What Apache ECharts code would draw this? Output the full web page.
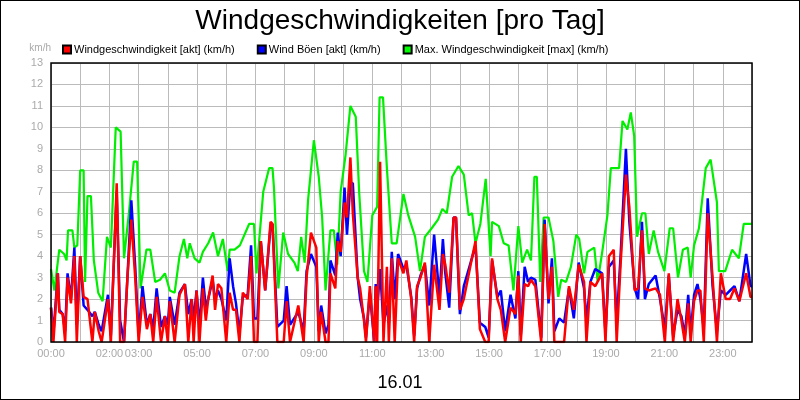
<!DOCTYPE html>
<html>
<head>
<meta charset="utf-8">
<script src="https://cdn.jsdelivr.net/npm/echarts@6/dist/echarts.min.js"></script>
<style>
  html, body { margin: 0; padding: 0; background: #fff; }
  #chart { width: 798px; height: 398px; border: 1px solid #000; }
</style>
</head>
<body>
<div id="chart"></div>
<script>
// Zeiten in Minuten seit 00:00
var shownHours = [0, 2, 3, 5, 7, 9, 11, 13, 15, 17, 19, 21, 23]

var maxT = [0, 7, 17, 27, 32, 35, 44, 48, 54, 60, 67, 70, 75, 82, 88, 97, 106, 115, 123, 133, 143, 150, 160, 170, 177, 184, 196, 204, 214, 224, 234, 244, 254, 264, 273, 280, 285, 295, 305, 312, 323, 333, 343, 353, 363, 367, 377, 388,
  407, 417, 422, 436, 448, 455, 458, 467, 477, 487,
  500, 507, 514, 521, 528, 540, 550, 557, 564, 574,
  581, 588, 595, 605, 615, 626, 633, 643, 650, 660,
  670, 675, 682, 690, 700, 710, 724, 734, 748, 758,
  768, 782, 795, 804, 813, 824, 837, 848, 858, 865,
  872, 882, 893, 903, 906, 920, 930, 940, 950, 960,
  968, 978, 986, 993, 998, 1005, 1012, 1022, 1032, 1042,
  1048, 1058, 1068, 1079, 1085, 1095, 1102, 1116, 1123, 1133,
  1143, 1150, 1157, 1167, 1174, 1184, 1191, 1198, 1204, 1214,
  1221, 1228, 1238, 1247, 1260, 1271, 1278, 1288, 1298, 1308,
  1314, 1321, 1331, 1345, 1355, 1368, 1372, 1385, 1399, 1413,
  1423, 1433, 1440]
var maxV = [3.4, 2.4, 4.3, 4.1, 3.8, 5.2, 5.2, 4.4, 4.5, 8.0, 8.0, 2.8, 6.8, 6.8, 3.8, 2.3, 1.9, 4.9, 4.4, 10.0, 9.8, 3.9, 6.0, 8.4, 8.4, 2.5, 4.3, 4.3, 2.8, 2.9, 3.2, 2.4, 2.3, 4.0, 4.8, 3.9, 4.6, 3.9, 3.7, 4.2, 4.6, 5.1, 4.0, 4.8, 3.3, 4.3, 4.3, 4.5,
  5.5, 5.5, 3.2, 7.0, 8.1, 8.1, 7.2, 2.5, 5.1, 4.1,
  3.7, 3.3, 4.9, 3.7, 6.6, 9.4, 7.7, 5.8, 2.4, 5.2,
  5.2, 3.6, 7.0, 8.7, 11.0, 10.5, 7.0, 3.3, 2.8, 5.9,
  6.3, 11.4, 11.4, 8.1, 4.6, 4.6, 6.9, 5.9, 4.9, 3.3,
  4.9, 5.3, 5.7, 6.2, 6.0, 7.7, 8.2, 7.8, 5.9, 6.0,
  4.6, 5.5, 7.6, 4.0, 5.6, 5.4, 4.6, 4.5, 2.4, 5.4,
  3.7, 4.3, 3.8, 7.7, 7.7, 2.8, 5.8, 5.8, 4.7, 2.1,
  2.9, 2.8, 3.5, 5.0, 4.8, 3.2, 4.2, 4.4, 2.8, 4.3,
  5.9, 8.1, 8.1, 8.1, 10.3, 9.9, 10.7, 9.6, 4.9, 6.0,
  6.0, 4.1, 5.2, 4.2, 3.3, 5.3, 5.3, 3.0, 4.3, 4.4,
  3.0, 4.5, 5.3, 8.1, 8.5, 6.5, 3.3, 3.3, 4.3, 3.9,
  5.5, 5.5, 5.5]

var windT = [0, 5, 14, 17, 24, 29, 34, 41, 48, 53,
  60, 67, 75, 85, 90, 98, 104, 117, 123, 135,
  142, 150, 157, 165, 173, 180, 188, 197, 204, 210,
  217, 226, 234, 240, 244, 254, 264, 275, 282, 289,
  293, 299, 305, 312, 318, 323, 332, 337, 343, 350,
  360, 367, 374, 380, 387, 394, 404, 411, 417, 424,
  431, 440, 451, 455, 465, 478, 484, 491, 508, 519,
  525, 534, 545, 550, 555, 564, 570, 574, 584, 589,
  595, 603, 608, 615, 620, 630, 635, 643, 647, 655,
  664, 667, 670, 676, 683, 690, 694, 700, 706, 713,
  724, 730, 740, 746, 752, 759, 768, 777, 787, 798,
  805, 810, 818, 827, 832, 840, 848, 862, 872, 881,
  892, 899, 906, 917, 924, 933, 944, 954, 960, 965,
  973, 980, 986, 995, 1007, 1014, 1022, 1029, 1034, 1044,
  1054, 1064, 1074, 1084, 1095, 1100, 1108, 1118, 1132, 1139,
  1146, 1156, 1162, 1170, 1181, 1188, 1199, 1206, 1214, 1220,
  1228, 1242, 1251, 1261, 1269, 1278, 1287, 1295, 1302, 1309,
  1314, 1321, 1328, 1334, 1341, 1349, 1359, 1368, 1376, 1386,
  1395, 1404, 1414, 1428, 1437, 1440]
var windV = [1.6, 0, 3.2, 1.4, 1.3, 0, 3.0, 1.8, 4.0, 0,
  4.0, 2.1, 2.0, 0, 1.4, 0.5, 0, 2.0, 0, 7.4,
  0, 0, 3.0, 5.7, 3.0, 0, 2.1, 0.6, 1.3, 0,
  2.1, 0, 1.2, 0, 1.9, 0, 2.2, 2.7, 0, 2.0,
  0, 2.4, 0, 2.5, 1.0, 2.0, 3.1, 1.5, 2.7, 2.5,
  0, 2.3, 1.5, 1.5, 0, 2.3, 2.0, 4.0, 0, 0,
  4.7, 2.4, 5.6, 5.5, 0, 0, 1.9, 0, 1.7, 0,
  3.0, 5.1, 4.4, 0, 1.4, 0, 0, 3.2, 2.5, 4.7,
  4.2, 6.5, 5.8, 8.6, 6.0, 3.0, 2.5, 1.0, 0, 2.6,
  0, 2.6, 0, 8.4, 0, 3.5, 0, 3.9, 0, 3.9,
  3.2, 3.8, 2.0, 0, 2.6, 3.0, 3.7, 0, 3.6, 1.5,
  4.1, 3.6, 2.3, 5.8, 5.8, 1.5, 2.0, 3.6, 4.7, 0.6,
  0, 0, 3.9, 2.0, 1.5, 0, 1.6, 1.3, 3.1, 0,
  2.7, 2.6, 2.9, 2.6, 0, 5.5, 2.0, 3.5, 0, 0,
  0, 2.6, 1.5, 3.6, 2.8, 0, 2.8, 2.6, 3.2, 0,
  4.0, 4.3, 0, 3.6, 7.8, 6.3, 2.4, 2.5, 5.2, 2.5,
  2.4, 2.5, 2.2, 0, 3.2, 0, 2.0, 1.0, 0, 1.8,
  0, 1.9, 2.4, 2.4, 0, 6.0, 3.0, 0, 3.2, 2.0,
  2.0, 2.5, 1.9, 3.2, 2.1, 2.1]
var boeenV = [1.6, 0.4, 3.2, 1.5, 1.3, 0.5, 3.2, 2.0, 4.4, 0.8,
  4.0, 1.7, 1.5, 1.2, 1.4, 0.8, 0.5, 2.2, 0.3, 7.0,
  1.0, 0, 3.0, 6.6, 3.5, 0.3, 2.6, 0.8, 1.3, 0.6,
  2.5, 0.7, 1.2, 0.8, 2.1, 0.8, 2.3, 2.7, 1.3, 2.0,
  1.0, 2.4, 0.7, 3.0, 1.6, 2.0, 2.9, 2.0, 2.4, 2.0,
  1.0, 3.9, 2.6, 1.8, 0.4, 2.1, 2.2, 4.5, 1.1, 1.1,
  4.7, 2.4, 5.4, 5.5, 0.7, 1.0, 2.6, 0.8, 1.4, 0.5,
  3.3, 4.1, 3.5, 0.5, 1.7, 0.4, 0.8, 3.8, 3.1, 5.1,
  4.0, 7.2, 5.0, 7.4, 7.4, 3.0, 2.0, 1.1, 0.2, 2.3,
  0, 2.7, 1.5, 3.4, 0.8, 1.7, 0.9, 4.2, 2.0, 4.1,
  3.4, 3.6, 2.1, 0.3, 2.5, 3.1, 3.6, 1.7, 5.0, 2.1,
  4.8, 3.2, 1.6, 5.8, 5.8, 1.3, 2.6, 3.7, 4.5, 0.9,
  0.7, 0.2, 3.8, 2.1, 2.4, 0.5, 2.2, 1.1, 3.3, 0.3,
  3.5, 2.8, 3.0, 2.9, 0.2, 5.7, 1.8, 3.9, 0.5, 1.1,
  0.9, 2.5, 1.1, 3.7, 2.5, 1.0, 2.8, 3.4, 3.2, 0.4,
  3.5, 3.8, 0.9, 4.0, 9.0, 5.6, 2.5, 2.0, 5.6, 2.0,
  2.7, 3.1, 2.0, 0.6, 3.1, 0.3, 1.5, 1.2, 0.3, 2.2,
  0.4, 2.2, 2.7, 2.0, 0.6, 6.7, 2.6, 0.5, 2.4, 2.2,
  2.4, 2.6, 1.9, 4.1, 2.6, 2.6]

function pairs(t, v) {
  return t.map(function(m, i) { return [m, v[i]] })
}

var myChart = echarts.init(document.getElementById('chart'))

var option = {
  animation: false,
  textStyle: { fontFamily: 'Liberation Sans' },
  title: [
    { text: 'Windgeschwindigkeiten [pro Tag]', left: 'center', top: 1,
      textStyle: { fontSize: 28, fontWeight: 'normal', color: '#000' } },
    { text: '16.01', left: 'center', top: 368,
      textStyle: { fontSize: 18, fontWeight: 'normal', color: '#000' } }
  ],
  legend: {
    top: 38, left: 56, itemWidth: 8, itemHeight: 8, itemGap: 22,
    icon: 'rect',
    textStyle: { fontSize: 11, color: '#000', padding: [0, 0, 0, -2] },
    data: ['Windgeschwindigkeit [akt] (km/h)', 'Wind Böen [akt] (km/h)', 'Max. Windgeschwindigkeit [max] (km/h)']
  },
  grid: { left: 50, right: 47, top: 62, bottom: 57 },
  xAxis: {
    type: 'value', min: 0, max: 1440, interval: 60,
    axisLine: { show: false },
    axisTick: { show: false },
    splitLine: { lineStyle: { color: '#bbb' } },
    axisLabel: {
      color: '#aaa', fontSize: 11, margin: 6,
      formatter: function(v) {
        var h = v / 60
        if (shownHours.indexOf(h) < 0) return ''
        return (h < 10 ? '0' : '') + h + ':00'
      }
    }
  },
  yAxis: {
    type: 'value', min: 0, max: 13, interval: 1,
    name: 'km/h', nameLocation: 'end', nameGap: 10,
    nameTextStyle: { color: '#aaa', fontSize: 10, align: 'right' },
    axisLine: { show: false },
    axisTick: { show: false },
    splitLine: { lineStyle: { color: '#bbb' } },
    axisLabel: { color: '#aaa', fontSize: 11, margin: 8 }
  },
  series: [
    { name: 'Max. Windgeschwindigkeit [max] (km/h)', type: 'line', data: pairs(maxT, maxV),
      showSymbol: false, lineStyle: { color: '#00ee00', width: 2.2 }, itemStyle: { color: '#00ff00', borderColor: '#000', borderWidth: 1 } },
    { name: 'Wind Böen [akt] (km/h)', type: 'line', data: pairs(windT, boeenV),
      showSymbol: false, lineStyle: { color: '#0000ff', width: 2.5 }, itemStyle: { color: '#0000ff', borderColor: '#000', borderWidth: 1 } },
    { name: 'Windgeschwindigkeit [akt] (km/h)', type: 'line', data: pairs(windT, windV),
      showSymbol: false, lineStyle: { color: '#ff0000', width: 2.5 }, itemStyle: { color: '#ff0000', borderColor: '#000', borderWidth: 1 } }
  ],
  graphic: [{
    type: 'rect', shape: { x: 50, y: 62, width: 701, height: 279 }, silent: true, z: 100,
    style: { fill: 'none', stroke: '#000', lineWidth: 1.5 }
  }]
}

myChart.setOption(option)
</script>
</body>
</html>
